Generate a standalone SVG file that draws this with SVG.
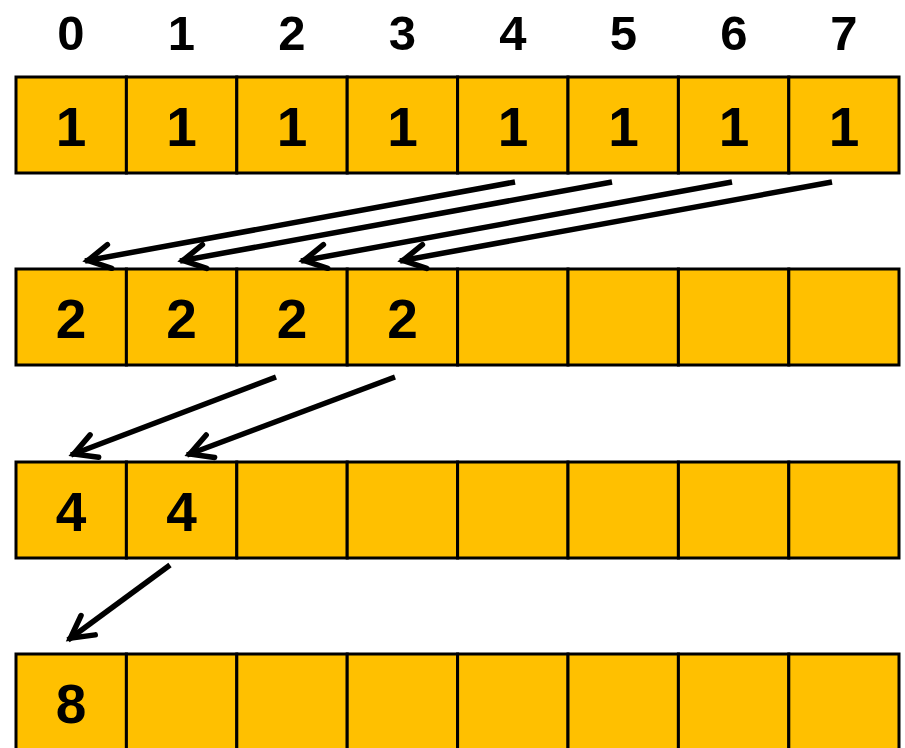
<svg xmlns="http://www.w3.org/2000/svg" width="905" height="748" viewBox="0 0 905 748">
<style>
.cell{fill:#FFC000;stroke:#000;stroke-width:3}
.idx{font-family:"Liberation Sans",Arial,sans-serif;font-weight:bold;font-size:49px;text-anchor:middle;fill:#000}
.val{font-family:"Liberation Sans",Arial,sans-serif;font-weight:bold;font-size:55px;text-anchor:middle;fill:#000}
.conn{stroke:#000;stroke-width:5.5;fill:none;marker-end:url(#ah)}
</style>
<defs>
<marker id="ah" markerUnits="userSpaceOnUse" markerWidth="50" markerHeight="50" refX="3" refY="0" orient="auto" overflow="visible">
<path d="M -22 -12 L 0 0 L -22 12" fill="none" stroke="#000" stroke-width="5.5" stroke-linejoin="miter" stroke-linecap="round"/>
</marker>
</defs>
<rect width="905" height="748" fill="#fff"/>
<g id="indices">
<text class="idx" x="71" y="50">0</text>
<text class="idx" x="181.5" y="50">1</text>
<text class="idx" x="292" y="50">2</text>
<text class="idx" x="402.5" y="50">3</text>
<text class="idx" x="513" y="50">4</text>
<text class="idx" x="623.5" y="50">5</text>
<text class="idx" x="734" y="50">6</text>
<text class="idx" x="844" y="50">7</text>
</g>
<g id="row1">
<g id="r1c0"><rect class="cell" x="16" y="77" width="110.4" height="96"/><text class="val" x="71" y="146">1</text></g>
<g id="r1c1"><rect class="cell" x="126.4" y="77" width="110.4" height="96"/><text class="val" x="181.5" y="146">1</text></g>
<g id="r1c2"><rect class="cell" x="236.8" y="77" width="110.4" height="96"/><text class="val" x="292" y="146">1</text></g>
<g id="r1c3"><rect class="cell" x="347.2" y="77" width="110.4" height="96"/><text class="val" x="402.5" y="146">1</text></g>
<g id="r1c4"><rect class="cell" x="457.6" y="77" width="110.4" height="96"/><text class="val" x="513" y="146">1</text></g>
<g id="r1c5"><rect class="cell" x="568" y="77" width="110.4" height="96"/><text class="val" x="623.5" y="146">1</text></g>
<g id="r1c6"><rect class="cell" x="678.4" y="77" width="110.4" height="96"/><text class="val" x="734" y="146">1</text></g>
<g id="r1c7"><rect class="cell" x="788.8" y="77" width="110.2" height="96"/><text class="val" x="844" y="146">1</text></g>
</g>
<g id="row2">
<g id="r2c0"><rect class="cell" x="16" y="269" width="110.4" height="96"/><text class="val" x="71" y="338">2</text></g>
<g id="r2c1"><rect class="cell" x="126.4" y="269" width="110.4" height="96"/><text class="val" x="181.5" y="338">2</text></g>
<g id="r2c2"><rect class="cell" x="236.8" y="269" width="110.4" height="96"/><text class="val" x="292" y="338">2</text></g>
<g id="r2c3"><rect class="cell" x="347.2" y="269" width="110.4" height="96"/><text class="val" x="402.5" y="338">2</text></g>
<g id="r2c4"><rect class="cell" x="457.6" y="269" width="110.4" height="96"/></g>
<g id="r2c5"><rect class="cell" x="568" y="269" width="110.4" height="96"/></g>
<g id="r2c6"><rect class="cell" x="678.4" y="269" width="110.4" height="96"/></g>
<g id="r2c7"><rect class="cell" x="788.8" y="269" width="110.2" height="96"/></g>
</g>
<g id="row3">
<g id="r3c0"><rect class="cell" x="16" y="462" width="110.4" height="96"/><text class="val" x="71" y="531">4</text></g>
<g id="r3c1"><rect class="cell" x="126.4" y="462" width="110.4" height="96"/><text class="val" x="181.5" y="531">4</text></g>
<g id="r3c2"><rect class="cell" x="236.8" y="462" width="110.4" height="96"/></g>
<g id="r3c3"><rect class="cell" x="347.2" y="462" width="110.4" height="96"/></g>
<g id="r3c4"><rect class="cell" x="457.6" y="462" width="110.4" height="96"/></g>
<g id="r3c5"><rect class="cell" x="568" y="462" width="110.4" height="96"/></g>
<g id="r3c6"><rect class="cell" x="678.4" y="462" width="110.4" height="96"/></g>
<g id="r3c7"><rect class="cell" x="788.8" y="462" width="110.2" height="96"/></g>
</g>
<g id="row4">
<g id="r4c0"><rect class="cell" x="16" y="654" width="110.4" height="100"/><text class="val" x="71" y="723">8</text></g>
<g id="r4c1"><rect class="cell" x="126.4" y="654" width="110.4" height="100"/></g>
<g id="r4c2"><rect class="cell" x="236.8" y="654" width="110.4" height="100"/></g>
<g id="r4c3"><rect class="cell" x="347.2" y="654" width="110.4" height="100"/></g>
<g id="r4c4"><rect class="cell" x="457.6" y="654" width="110.4" height="100"/></g>
<g id="r4c5"><rect class="cell" x="568" y="654" width="110.4" height="100"/></g>
<g id="r4c6"><rect class="cell" x="678.4" y="654" width="110.4" height="100"/></g>
<g id="r4c7"><rect class="cell" x="788.8" y="654" width="110.2" height="100"/></g>
</g>
<g id="connectors">
<line class="conn" x1="515" y1="182" x2="85" y2="261"/>
<line class="conn" x1="612" y1="182" x2="180" y2="261"/>
<line class="conn" x1="732" y1="182" x2="301" y2="261"/>
<line class="conn" x1="832" y1="182" x2="400" y2="261"/>
<line class="conn" x1="276" y1="377" x2="71" y2="455"/>
<line class="conn" x1="395" y1="377" x2="187" y2="455"/>
<line class="conn" x1="170" y1="565" x2="68" y2="640"/>
</g>
</svg>
